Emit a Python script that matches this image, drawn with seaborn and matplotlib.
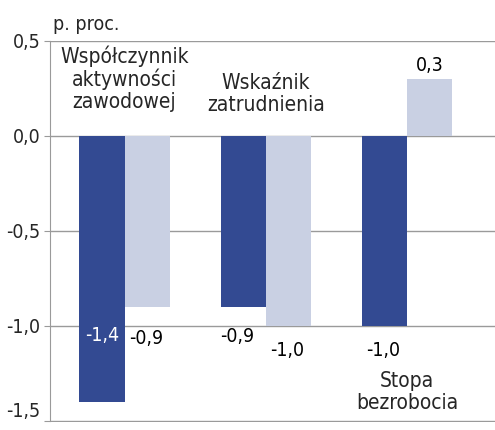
import pandas as pd
import matplotlib
matplotlib.use("Agg")
import matplotlib.pyplot as plt
import seaborn as sns

categories = ["Współczynnik\naktywności\nzawodowej", "Wskaźnik\nzatrudnienia", "Stopa\nbezrobocia"]
series = ["A", "B"]
values_a = [-1.4, -0.9, -1.0]
values_b = [-0.9, -1.0, 0.3]
yticks = [0.5, 0.0, -0.5, -1.0, -1.5]

df = pd.DataFrame({
    "cat": categories * 2,
    "series": [series[0]] * 3 + [series[1]] * 3,
    "value": values_a + values_b,
})

sns.set_style("white")
plt.rcParams["font.family"] = ["Liberation Sans Narrow", "DejaVu Sans"]
plt.rcParams["font.stretch"] = "condensed"

fig = plt.figure(figsize=(4.95, 4.3), dpi=100)
ax = fig.add_axes([0.101, 0.019, 0.899, 0.886])
ax.set_axisbelow(True)

sns.barplot(data=df, x="cat", y="value", hue="series", order=categories,
            hue_order=series, palette=["#334a92", "#c9d0e3"], width=0.64,
            saturation=1, legend=False, linewidth=0, ax=ax)

ax.set_ylim(-1.505, 0.5)
ax.set_xlim(-0.528, 2.624)
ax.set_yticks(yticks)
ax.set_yticklabels([f"{t:.1f}".replace(".", ",") for t in yticks], fontsize=14)
ax.get_yticklabels()[-1].set_va("bottom")
ax.set_xticks([])
ax.set_xlabel("")
ax.set_ylabel("")
ax.yaxis.grid(True, color="#9a9a9a", lw=1)
ax.xaxis.grid(False)
for s in ["top", "right", "bottom"]:
    ax.spines[s].set_visible(False)
ax.spines["left"].set_color("#9a9a9a")
ax.spines["left"].set_bounds(-1.5, 0.5)
ax.tick_params(axis="y", length=4, color="#9a9a9a", pad=3, left=True)

# category titles
ax.text(0, 0.475, categories[0], ha="center", va="top", fontsize=15, linespacing=1.1)
ax.text(1, 0.33, categories[1], ha="center", va="top", fontsize=15, linespacing=1.1)
ax.text(2, -1.24, categories[2], ha="center", va="top", fontsize=15, linespacing=1.1)

# value labels
label_y = {(0, 0): -1.05, (0, 1): -1.065, (1, 0): -1.055, (1, 1): -1.13,
           (2, 0): -1.13, (2, 1): 0.37}
label_col = {(0, 0): "white"}
for j, cont in enumerate(ax.containers):
    for i, bar in enumerate(cont):
        v = (values_a if j == 0 else values_b)[i]
        x = bar.get_x() + bar.get_width() / 2
        if (i, j) == (1, 0):
            x -= 0.04
        if (i, j) in [(0, 1), (1, 1), (2, 0)]:
            x -= 0.01
        ax.text(x, label_y[(i, j)], f"{v:.1f}".replace(".", ","),
                ha="center", va="center", fontsize=14,
                color=label_col.get((i, j), "black"))

fig.text(0.107, 0.943, "p. proc.", ha="left", va="center", fontsize=14)

fig.savefig("out.png", dpi=100)
